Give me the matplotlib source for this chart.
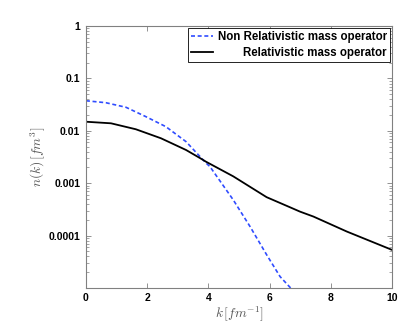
import numpy as np
import matplotlib
matplotlib.use("Agg")
import matplotlib.pyplot as plt
from matplotlib.ticker import FixedLocator, FixedFormatter, LogLocator, NullFormatter

# momentum distribution
k_nr = [0, 0.65, 1.31, 1.96, 2.61, 3.27, 3.92, 4.05, 4.81, 5.36, 5.9, 6.34, 6.64, 6.8]
n_nr = [0.0375, 0.0344, 0.0281, 0.0186, 0.0120, 0.0062, 0.00243, 0.00207,
        4.8e-4, 1.48e-4, 4.3e-5, 1.64e-5, 1.06e-5, 8.5e-6]

k_r = [0, 0.82, 1.63, 2.45, 3.27, 3.73, 3.92, 4.81, 5.9, 6.67, 6.99, 7.43, 8.52, 10]
n_r = [0.0149, 0.0139, 0.0107, 0.0072, 0.0043, 0.0030, 0.00257, 0.00135,
       5.4e-4, 3.45e-4, 2.86e-4, 2.3e-4, 1.19e-4, 5.3e-5]

y_ticks = [1e-4, 1e-3, 1e-2, 1e-1, 1]
y_ticklabels = ["0.0001", "0.001", "0.01", "0.1", "1"]
x_ticks = [0, 2, 4, 6, 8, 10]

plt.rcParams["font.family"] = ["Liberation Sans", "DejaVu Sans"]
plt.rcParams["font.weight"] = "bold"
plt.rcParams["mathtext.fontset"] = "cm"

fig = plt.figure(figsize=(4.15, 3.22), dpi=100)
ax = fig.add_axes([0.207, 0.106, 0.738, 0.813])

ax.semilogy(k_nr, n_nr, color="#2f4cff", linestyle="--", dashes=(2.4, 1.6),
            linewidth=1.2, label="Non Relativistic mass operator")
ax.semilogy(k_r, n_r, color="black", linewidth=1.3, label="Relativistic mass operator")

ax.set_xlim(0, 10)
ax.set_ylim(1e-5, 1)
ax.set_xticks(x_ticks)
ax.yaxis.set_major_locator(FixedLocator(y_ticks))
ax.yaxis.set_major_formatter(FixedFormatter(y_ticklabels))
ax.yaxis.set_minor_locator(LogLocator(base=10, subs=np.arange(2, 10)))
ax.yaxis.set_minor_formatter(NullFormatter())

for s in ax.spines.values():
    s.set_color("#808080")
    s.set_linewidth(0.8)
ax.tick_params(which="both", direction="in", top=True, right=True, color="#808080",
               labelsize=7.5, labelcolor="black", pad=4)
ax.tick_params(which="major", length=3.5, width=0.6)
ax.tick_params(which="minor", length=2, width=0.5)
for lab in ax.get_xticklabels() + ax.get_yticklabels():
    lab.set_fontweight("bold")

ax.set_xlabel(r"$k\,[fm^{-1}]$", fontsize=9.7, color="#555555")
ax.set_ylabel(r"$n(k)\,[fm^{3}]$", fontsize=9.7, color="#555555")
ax.xaxis.set_label_coords(0.5, -0.061)
ax.yaxis.set_label_coords(-0.126, 0.5)

leg = ax.legend(loc="upper right", fontsize=8.3, frameon=True, fancybox=False,
                framealpha=1, edgecolor="black", borderpad=0.25, labelspacing=0.3,
                handlelength=1.9, handletextpad=0.45, borderaxespad=0.2)
leg.get_frame().set_linewidth(0.6)
for t in leg.get_texts():
    t.set_fontweight("bold")

# right-align the legend labels like the original
fig.canvas.draw()
texts = leg.get_texts()
w0 = texts[0].get_window_extent().width
w1 = texts[1].get_window_extent().width
texts[1].set_x(w0 - w1)

fig.savefig("out.png", dpi=100)
